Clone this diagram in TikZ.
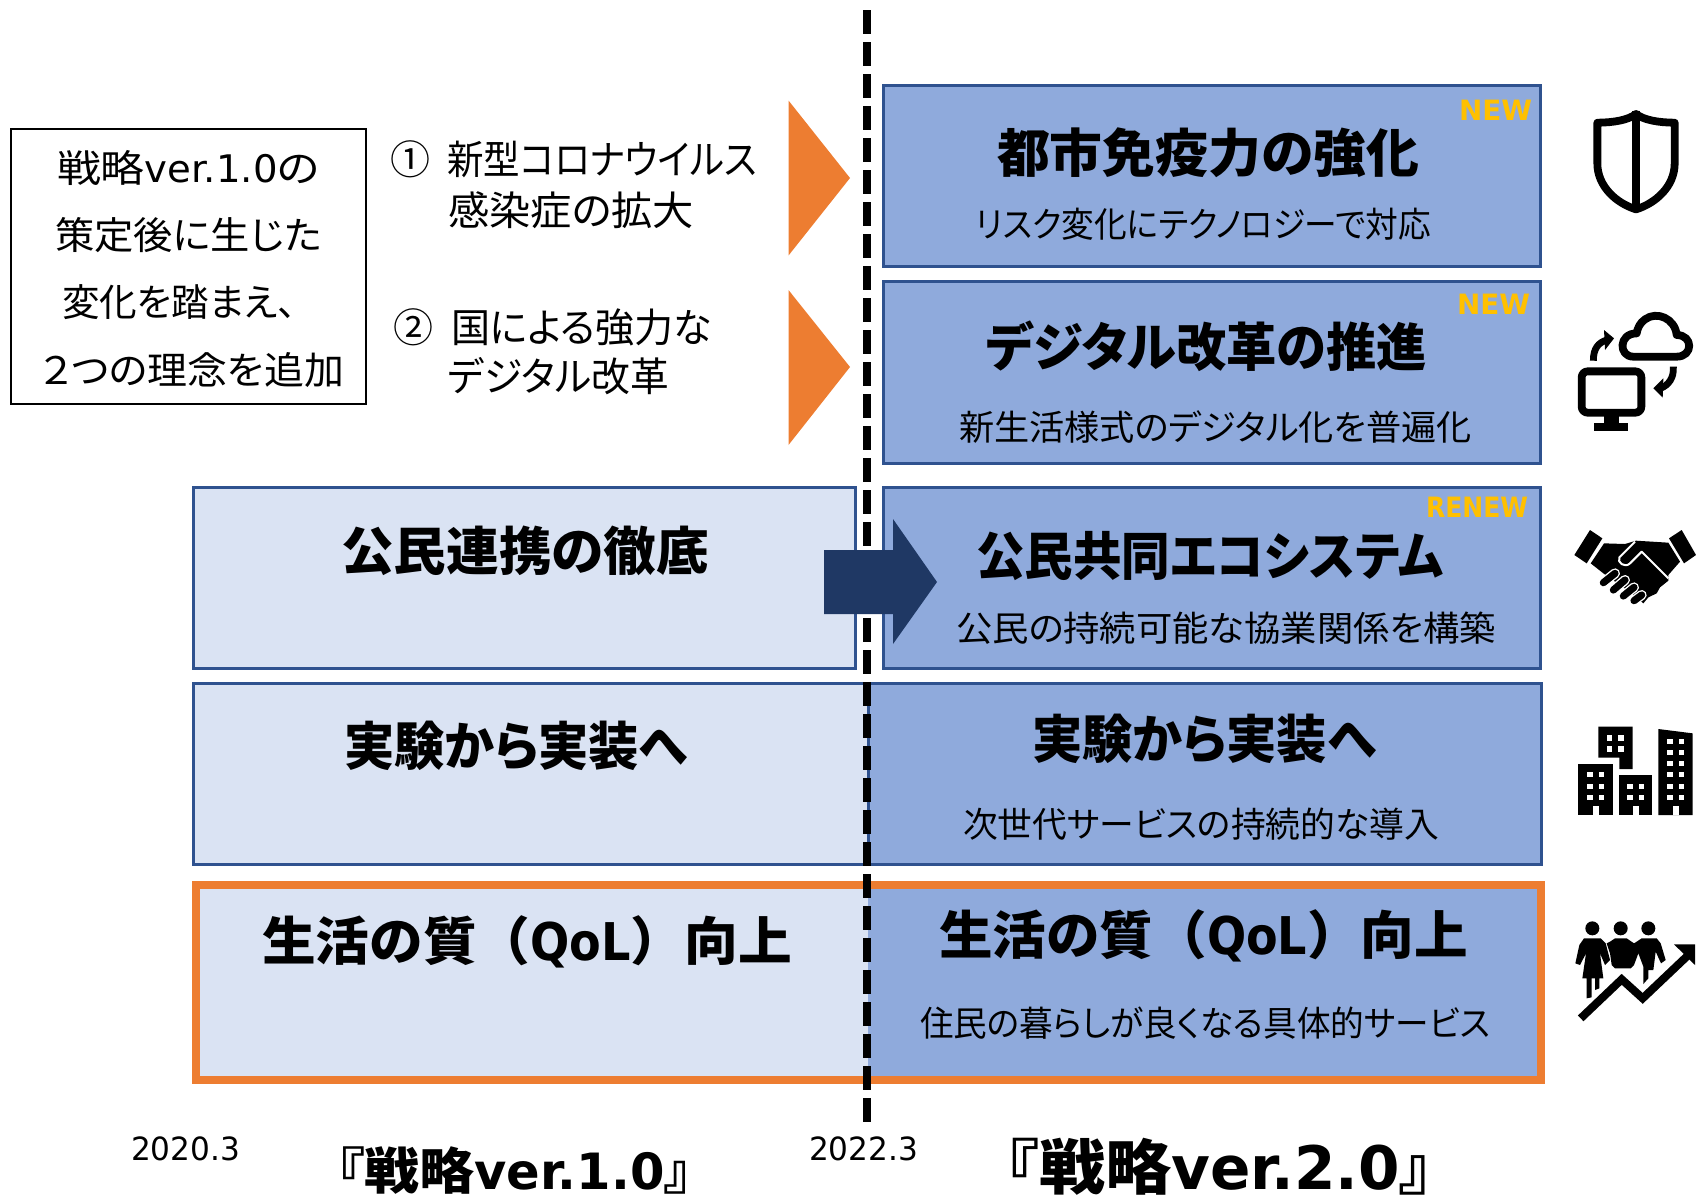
\documentclass[tikz,border=0pt]{standalone}
\usepackage{fontspec}
\usepackage{graphicx}
\setmainfont{DejaVu Sans}
\newfontfamily\jp[RawFeature=+palt]{Noto Sans CJK JP}
\newfontfamily\jpf{Noto Sans CJK JP}
\newfontfamily\dv{DejaVu Sans}
\newsavebox\fitbox
\newcommand\fitw[2]{\sbox\fitbox{#2}\pgfmathsetmacro\fitr{#1*0.5/\the\wd\fitbox}\scalebox{\fitr}[1]{\usebox\fitbox}}
\newcommand\jj[1]{{\jp #1}}
\newcommand\bb[1]{{\jp\bfseries #1}}
\newcommand\bfull[1]{{\jpf\bfseries #1}}
\newcommand\lb[1]{{\dv\bfseries #1}}
\newcommand\qol{\bfull{生活の質（}\scalebox{.86}[1]{\lb{QoL}}\bfull{）向上}}
\definecolor{lt}{HTML}{DAE3F3}
\definecolor{bl}{HTML}{8FAADC}
\definecolor{bd}{HTML}{2F528F}
\definecolor{og}{HTML}{ED7D31}
\definecolor{ny}{HTML}{1F3864}
\definecolor{ye}{HTML}{FFC000}
\tikzset{
 lbl/.style={inner sep=0,outer sep=0,anchor=west,text height=0pt,text depth=0pt},
 big/.style={lbl,yshift=-9.3pt,font=\fontsize{26}{26}\selectfont},
 sub/.style={lbl,yshift=-6.85pt,font=\fontsize{17.5}{18}\selectfont},
 note/.style={lbl,yshift=-7.4pt,font=\fontsize{20}{20}\selectfont},
 lft/.style={lbl,yshift=-7.4pt,font=\fontsize{19}{19}\selectfont},
 tag/.style={lbl,yshift=-5.2pt,font=\fontsize{14}{14}\selectfont\bfseries,text=ye},
 yr/.style={lbl,yshift=-5.8pt,font=\fontsize{16}{16}\selectfont},
 panel/.style={draw=bd,line width=1.5pt,inner sep=0,outer sep=0},
 ic/.style={line width=3.9pt,line cap=butt,line join=round},
}
\newcommand\boxn[7]{\node[panel,#2,minimum width={(#5-#3)*0.5pt},minimum height={(#6-#4)*0.5pt}] (#1) at ({(#3+#5)/2},{(#4+#6)/2}) {#7};}
\begin{document}
\begin{tikzpicture}[x=0.5pt,y=-0.5pt]
\useasboundingbox (0,0) rectangle (1696,1195);
% left note box
\boxn{noteframe}{draw=black,fill=white,line width=.8pt}{11}{129}{366}{404}{}
% right panels
\boxn{r1}{fill=bl}{883}{85}{1540}{266}{}
\boxn{r2}{fill=bl}{883}{281}{1540}{463}{}
\boxn{r3}{fill=bl}{883}{487}{1540}{668}{}
\boxn{l3}{fill=lt}{193}{487}{855}{668}{}
\boxn{l4}{fill=lt}{193}{683}{868}{864}{}
\boxn{r4}{fill=bl}{868}{683}{1541}{864}{}
% bottom panel
\fill[lt] (196,885) rectangle (868,1080);
\fill[bl] (868,885) rectangle (1541,1080);
\node[draw=og,line width=4pt,inner sep=0,outer sep=0,minimum width=672.5pt,minimum height=97.5pt] (r5) at (868.5,982.5) {};
% orange triangles
\fill[og] (788.5,100.5) -- (850,178) -- (788.5,255.5) -- cycle;
\fill[og] (788.5,290) -- (850,367) -- (788.5,445) -- cycle;
% dashed divider
\coordinate (dtop) at (867,10);
\coordinate (dbot) at (867,1122);
\draw[black,line width=4pt,dash pattern=on 12pt off 4pt] (dtop) -- (dbot);
% navy arrow
\fill[ny] (824,550) -- (893,550) -- (893,519) -- (937,582) -- (893,644) -- (893,614) -- (824,614) -- cycle;
% left note text
\node[lft] (n1) at (57,167.6) {\fitw{263}{\jj{戦略}{\dv\scalebox{.88}[1]{ver.1.0}}\jj{の}}};
\node[lft] (n2) at (55,234.7) {\fitw{267}{\jj{策定後に生じた}}};
\node[lft] (n3) at (62,301.8) {\fitw{235}{\jj{変化を踏まえ、}}};
\node[lft] (n4) at (41,370) {\fitw{303}{\jj{２つの理念を追加}}};
% causes
\node[note,anchor=base] (c1) at (410,160) {\jj{①}};
\node[note] (c1a) at (447,160) {\fitw{310}{\jj{新型コロナウイルス}}};
\node[note] (c1b) at (448,211) {\fitw{246}{\jj{感染症の拡大}}};
\node[note,anchor=base] (c2) at (413,328) {\jj{②}};
\node[note] (c2a) at (451,328) {\fitw{261}{\jj{国による強力な}}};
\node[note] (c2b) at (448,377) {\fitw{221}{\jj{デジタル改革}}};
% tags
\node[tag] (t1) at (1459,110) {\fitw{73}{NEW}};
\node[tag] (t2) at (1457,304) {\fitw{73}{NEW}};
\node[tag] (t3) at (1426,507) {\fitw{102}{RENEW}};
% right text
\node[big] (a1) at (997,154) {\fitw{422}{\bb{都市免疫力の強化}}};
\node[sub] (a2) at (976,224) {\fitw{455}{\jj{リスク変化にテクノロジーで対応}}};
\node[big] (b1) at (986,348) {\fitw{441}{\bb{デジタル改革の推進}}};
\node[sub] (b2) at (959,427) {\fitw{513}{\jj{新生活様式のデジタル化を普遍化}}};
\node[big] (d1) at (976,557) {\fitw{467}{\bb{公民共同エコシステム}}};
\node[sub] (d2) at (956,628) {\fitw{540}{\jj{公民の持続可能な協業関係を構築}}};
\node[big] (e1) at (1032,740) {\fitw{344}{\bb{実験から実装へ}}};
\node[sub] (e2) at (963,824) {\fitw{476}{\jj{次世代サービスの持続的な導入}}};
\node[big] (f1) at (939,936) {\fitw{529}{\qol}};
\node[sub] (f2) at (920,1023) {\fitw{570}{\jj{住民の暮らしが良くなる具体的サービス}}};
% left text
\node[big] (g1) at (341,552) {\fitw{368}{\bb{公民連携の徹底}}};
\node[big] (g2) at (344,747) {\fitw{344}{\bb{実験から実装へ}}};
\node[big] (g3) at (262,942) {\fitw{530}{\qol}};
% bottom labels
\node[yr] (y1) at (131,1149) {\fitw{109}{2020.3}};
\node[yr] (y2) at (809,1149) {\fitw{109}{2022.3}};
\node[lbl,yshift=-9.6pt,font=\fontsize{25}{25}\selectfont] (v1) at (337,1170) {\fitw{355}{\bb{『戦略}\scalebox{.9}[1]{\lb{ver.1.0}}\bb{』}}};
\node[lbl,yshift=-10.6pt,font=\fontsize{30}{30}\selectfont] (v2) at (1006,1168) {\fitw{427}{\bb{『戦略}\scalebox{.9}[1]{\lb{ver.2.0}}\bb{』}}};
% shield icon
\begin{scope}[shift={(1500,70)},x=0.16667pt,y=-0.16667pt]
\draw[ic] (408,132) .. controls (385,150) and (340,158) .. (292,158) -- (292,280)
 .. controls (292,350) and (350,400) .. (408,418)
 .. controls (466,400) and (524,350) .. (524,280) -- (524,158)
 .. controls (476,158) and (431,150) .. (408,132) -- cycle;
\draw[ic] (408,122) -- (408,425);
\end{scope}
% cloud and computer icon
\begin{scope}[shift={(1500,70)},x=0.16667pt,y=-0.16667pt]
\draw[ic,rounded corners=3pt] (245,904) rectangle (424,1028);
\fill (312,1038) rectangle (358,1062);
\fill (283,1058) rectangle (385,1083);
\draw[ic] (400,860) -- (530,860) .. controls (580,860) and (580,795) .. (530,795)
 .. controls (525,745) and (470,722) .. (435,748)
 .. controls (420,758) and (412,775) .. (410,790)
 .. controls (355,790) and (355,860) .. (400,860) -- cycle;
\draw[line width=3.4pt] (280,872) .. controls (280,835) and (295,818) .. (320,810);
\fill (312,780) -- (342,805) -- (315,840) -- cycle;
\draw[line width=3.4pt] (520,890) .. controls (522,925) and (505,945) .. (482,955);
\fill (490,925) -- (460,955) -- (488,983) -- cycle;
\end{scope}
% handshake icon
\begin{scope}[shift={(1560,510)},x=0.16667pt,y=-0.16667pt]
\fill (90,60) -- (127,85) -- (80,160) -- (43,135) -- cycle;
\fill (365,60) -- (327,85) -- (372,160) -- (408,135) -- cycle;
\fill (132,100) -- (195,102) -- (228,92) -- (325,98) -- (360,155) -- (325,195) -- (325,212) -- (300,232) -- (290,250) -- (265,262) -- (250,280) -- (215,250) -- (130,190) -- (92,160) -- cycle;
\draw[white,line width=1pt,line join=round] (225,95) -- (178,142) .. controls (170,158) and (195,175) .. (210,160) -- (245,125) -- (325,205);
\foreach \ax/\ay/\bx/\by in {165/190/130/218, 195/210/160/240, 222/232/190/258, 245/255/222/272}{
 \draw[white,line width=5pt,line cap=round] (\ax,\ay) -- (\bx,\by);
 \draw[black,line width=3.6pt,line cap=round] (\ax,\ay) -- (\bx,\by);
}
\end{scope}
% buildings icon
\begin{scope}[shift={(1560,715)},x=0.16667pt,y=-0.16667pt]
\fill (115,35) -- (218,35) -- (218,162) -- (178,162) -- (178,128) -- (115,128) -- cycle;
\fill (55,147) rectangle (158,300);
\fill (176,180) rectangle (277,300);
\fill (295,42) -- (398,55) -- (398,300) -- (295,300) -- cycle;
\fill[white] (98,272) rectangle (117,300);
\fill[white] (218,272) rectangle (237,300);
\fill[white] (338,272) rectangle (357,300);
\foreach \wx in {140,175}\foreach \wy in {60,94}\fill[white] (\wx,\wy) rectangle +(17,17);
\foreach \wx in {82,116}\foreach \wy in {171,206,239}\fill[white] (\wx,\wy) rectangle +(17,16);
\foreach \wx in {202,237}\foreach \wy in {206,239}\fill[white] (\wx,\wy) rectangle +(16,16);
\foreach \wx in {321,356}\foreach \wy in {72,105,137,171,206,239}\fill[white] (\wx,\wy) rectangle +(17,16);
\end{scope}
% people and rising arrow icon
\begin{scope}[shift={(1560,910)},x=0.16667pt,y=-0.16667pt]
\fill (97,55) circle (21);
\fill (182,55) circle (21);
\fill (265,55) circle (21);
% woman
\fill (72,85) -- (122,85) -- (137,100) -- (150,150) -- (135,165) -- (120,130) -- (130,205) -- (118,205) -- (118,235) -- (105,240) -- (105,205) -- (95,205) -- (95,262) -- (80,265) -- (80,205) -- (67,205) -- (78,130) -- (60,165) -- (46,160) -- (58,105) -- cycle;
% men
\fill (150,95) -- (165,85) -- (200,85) -- (222,100) -- (230,95) -- (245,85) -- (290,85) -- (302,100) -- (317,150) -- (303,160) -- (287,125) -- (280,180) -- (265,180) -- (265,205) -- (250,222) -- (250,170) -- (235,130) -- (222,165) -- (212,175) -- (195,175) -- (165,175) -- (155,165) -- (150,130) -- (140,100) -- cycle;
% arrow
\draw[white,line width=6pt] (62,325) -- (185,208) -- (248,265) -- (385,135);
\draw[black,line width=4pt] (62,325) -- (185,208) -- (248,265) -- (385,135);
\fill (342,103) -- (405,103) -- (405,165) -- cycle;
\end{scope}
\end{tikzpicture}
\end{document}
